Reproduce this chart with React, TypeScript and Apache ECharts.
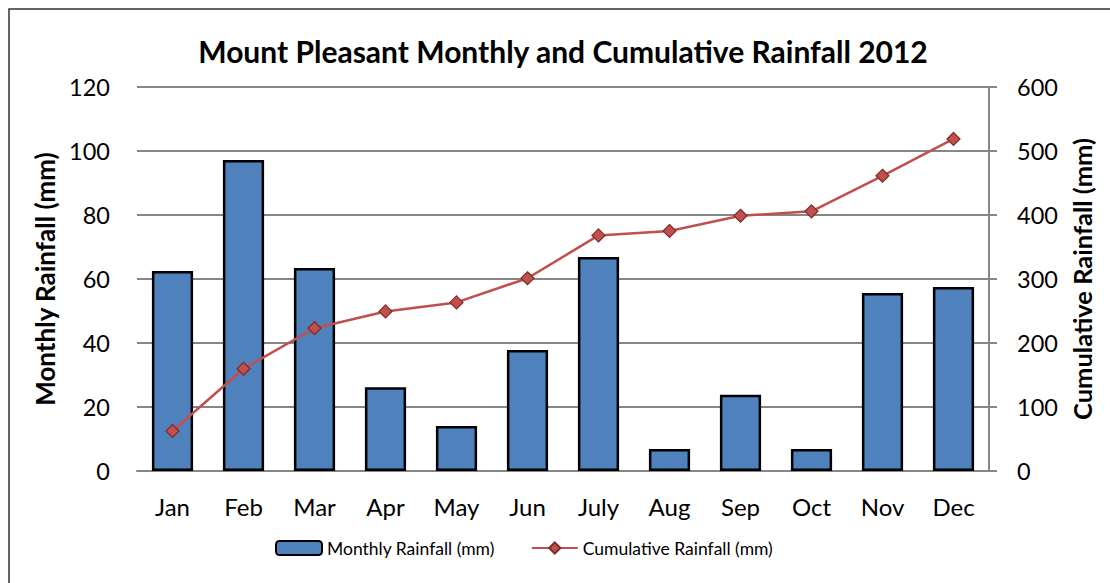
import React, { useEffect, useRef } from "react";
import * as echarts from "echarts";

const months = ["Jan", "Feb", "Mar", "Apr", "May", "Jun", "July", "Aug", "Sep", "Oct", "Nov", "Dec"];
const monthlyRainfall = [62.5, 97.2, 63.4, 26.2, 14.1, 37.8, 66.9, 6.9, 23.8, 6.9, 55.6, 57.5];
const cumulativeRainfall = [62.5, 159.7, 223.1, 249.3, 263.4, 301.2, 368.1, 375.0, 398.8, 405.7, 461.3, 518.8];

const FONT = "Lato";

export default function App() {
  const ref = useRef<HTMLDivElement>(null);
  useEffect(() => {
    if (!ref.current) return;
    const chart = echarts.init(ref.current, null, { renderer: "svg" });
    chart.setOption({
      animation: false,
      backgroundColor: "#ffffff",
      textStyle: { fontFamily: FONT },
      graphic: [
        {
          type: "rect",
          shape: { x: 9, y: 9, width: 1200, height: 700 },
          style: { fill: "none", stroke: "#333333", lineWidth: 1.5 },
          silent: true,
          z: 0,
        },
      ],
      title: {
        text: "Mount Pleasant Monthly and Cumulative Rainfall 2012",
        left: 558,
        top: 31,
        textAlign: "center",
        textStyle: { fontFamily: FONT, fontWeight: "bold", fontSize: 30, color: "#000" },
      },
      grid: { left: 137, right: 1110 - 989, top: 87, bottom: 583 - 471 },
      legend: {
        bottom: 21,
        left: 270,
        itemGap: 36,
        itemWidth: 46,
        itemHeight: 14,
        textStyle: { fontFamily: FONT, fontSize: 17.5, color: "#000" },
        data: ["Monthly Rainfall (mm)", "Cumulative Rainfall (mm)"],
      },
      xAxis: {
        type: "category",
        data: months,
        axisLine: { lineStyle: { color: "#868686", width: 2 } },
        axisTick: { show: false },
        axisLabel: { fontFamily: FONT, fontSize: 24, color: "#000", margin: 23 },
      },
      yAxis: [
        {
          type: "value",
          min: 0,
          max: 120,
          interval: 20,
          name: "Monthly Rainfall (mm)",
          nameLocation: "middle",
          nameGap: 76,
          nameTextStyle: { fontFamily: FONT, fontWeight: "bold", fontSize: 26, color: "#000" },
          axisLine: { show: false },
          axisTick: { show: false },
          axisLabel: { fontFamily: FONT, fontSize: 23.5, color: "#000", margin: 27 },
          splitLine: { lineStyle: { color: "#868686", width: 2 } },
        },
        {
          type: "value",
          min: 0,
          max: 600,
          interval: 100,
          name: "Cumulative Rainfall (mm)",
          nameLocation: "middle",
          nameGap: 76,
          nameRotate: 90,
          nameTextStyle: { fontFamily: FONT, fontWeight: "bold", fontSize: 25.5, color: "#000" },
          axisLine: { show: true, lineStyle: { color: "#868686", width: 2 } },
          axisTick: { show: true, length: 8, lineStyle: { color: "#868686", width: 2 } },
          axisLabel: { fontFamily: FONT, fontSize: 23.5, color: "#000", margin: 28 },
          splitLine: { show: false },
        },
      ],
      series: [
        {
          name: "Monthly Rainfall (mm)",
          type: "bar",
          data: monthlyRainfall,
          barCategoryGap: "42%",
          itemStyle: { color: "#4F81BD", borderColor: "#000000", borderWidth: 2.5 },
          z: 2,
        },
        {
          name: "Cumulative Rainfall (mm)",
          type: "line",
          yAxisIndex: 1,
          data: cumulativeRainfall,
          symbol: "diamond",
          symbolSize: 13,
          lineStyle: { color: "#C0504D", width: 2.5 },
          itemStyle: { color: "#C0504D", borderColor: "#7F2B28", borderWidth: 1.2 },
          z: 3,
        },
      ],
    });
    return () => chart.dispose();
  }, []);
  return (
    <div
      ref={ref}
      style={{ position: "fixed", left: 0, top: 0, width: 1110, height: 583 }}
    />
  );
}
